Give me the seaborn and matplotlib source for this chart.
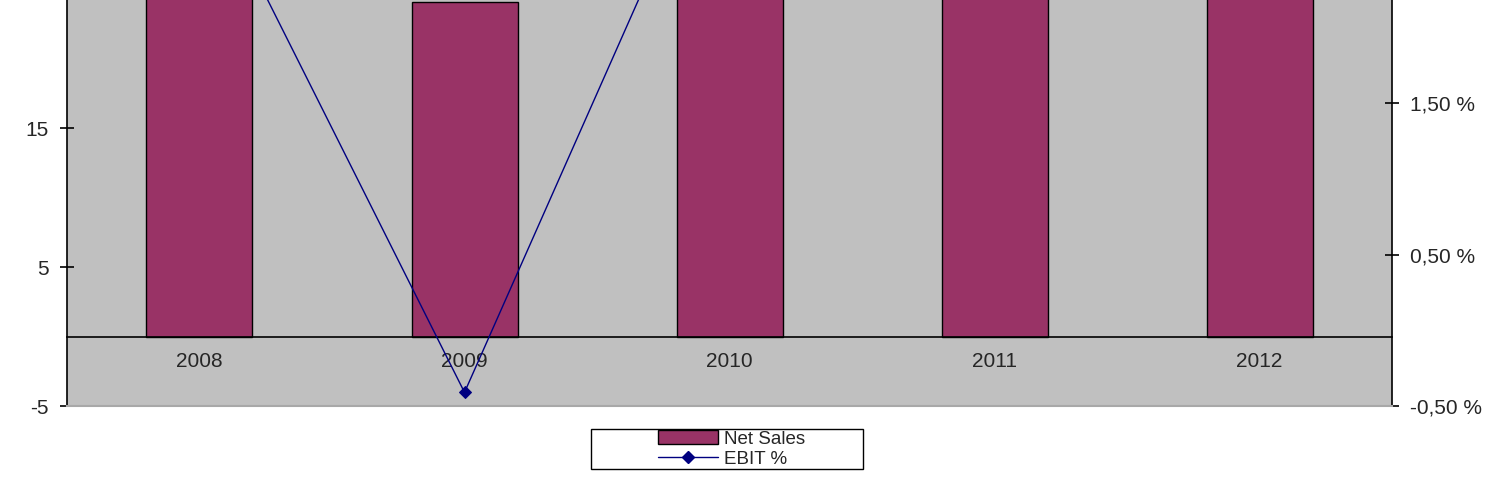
import matplotlib
matplotlib.use("Agg")
import matplotlib.pyplot as plt
import seaborn as sns
from matplotlib.patches import Patch, Rectangle
from matplotlib.lines import Line2D
from matplotlib.ticker import FuncFormatter

# data (values above the visible area are estimates)
years = ["2008", "2009", "2010", "2011", "2012"]
net_sales = [30.0, 24.1, 29.0, 31.0, 33.0]
ebit_pct = [3.08, -0.41, 3.54, 3.2, 3.9]

bar_color = "#993366"
line_color = "#000080"
bg_color = "#C0C0C0"

sns.set_style("white")
plt.rcParams["font.family"] = ["Liberation Sans", "DejaVu Sans"]
plt.rcParams["axes.unicode_minus"] = False

fig = plt.figure(figsize=(15.02, 4.87), dpi=100)
ax = fig.add_axes([0.0446, 0.1663, 0.8822, 0.8337])
ax.set_facecolor(bg_color)

sns.barplot(x=years, y=net_sales, color=bar_color, saturation=1,
            edgecolor="black", linewidth=1.0, width=0.4, ax=ax)

ax2 = ax.twinx()
sns.pointplot(x=years, y=ebit_pct, color=line_color, markers="D",
              markersize=6, linewidth=1.0, errorbar=None, ax=ax2)

ax.set_xlim(-0.5, 4.5)
ax.set_ylim(-5, 24.21)
ax2.set_ylim(-0.5, 2.182)

# left axis
ax.set_yticks([-5, 5, 15])
ax.tick_params(axis="y", direction="inout", length=10, width=1.2,
               labelsize=15, pad=8, color="black")
ax.set_ylabel("")

# category axis sitting on zero
ax.spines["bottom"].set_position(("data", 0))
ax.spines["bottom"].set_color("black")
ax.spines["bottom"].set_linewidth(1.2)
ax.spines["top"].set_visible(False)
ax.spines["right"].set_visible(False)
ax.spines["left"].set_color("black")
ax.spines["left"].set_linewidth(1.2)
ax.set_xticks([0.5, 1.5, 2.5, 3.5])
ax.set_xticklabels([])
ax.set_xticks(range(len(years)), minor=True)
ax.set_xticklabels(years, minor=True)
ax.tick_params(axis="x", which="major", direction="inout", length=8,
               width=1.2, color="black")
ax.tick_params(axis="x", which="minor", length=0, labelsize=15, pad=11)

# right axis
ax2.set_yticks([-0.5, 0.5, 1.5])
ax2.yaxis.set_major_formatter(
    FuncFormatter(lambda v, p: f"{v:.2f}".replace(".", ",") + " %"))
ax2.tick_params(axis="y", direction="inout", length=10, width=1.2,
                labelsize=15, pad=8, color="black")
ax2.set_ylabel("")
ax2.spines["top"].set_visible(False)
ax2.spines["left"].set_visible(False)
ax2.spines["right"].set_color("black")
ax2.spines["right"].set_linewidth(1.2)
ax2.spines["bottom"].set_color("#A8A8A8")
ax2.spines["bottom"].set_linewidth(1.5)

# legend in a framed box
fig.patches.append(Rectangle((0.3935, 0.037), 0.1811, 0.0821,
                             transform=fig.transFigure, facecolor="white",
                             edgecolor="black", linewidth=1.0, zorder=0))
handles = [
    Patch(facecolor=bar_color, edgecolor="black", linewidth=1.0),
    Line2D([0], [0], color=line_color, marker="D", markersize=6,
           linewidth=1.0),
]
fig.legend(handles, ["Net Sales", "EBIT %"], loc="center",
           bbox_to_anchor=(0.487, 0.078), frameon=False, fontsize=13.5,
           handlelength=3.2, handletextpad=0.3, labelspacing=0.15,
           borderpad=0, numpoints=1)

fig.savefig("out.png", dpi=100)
